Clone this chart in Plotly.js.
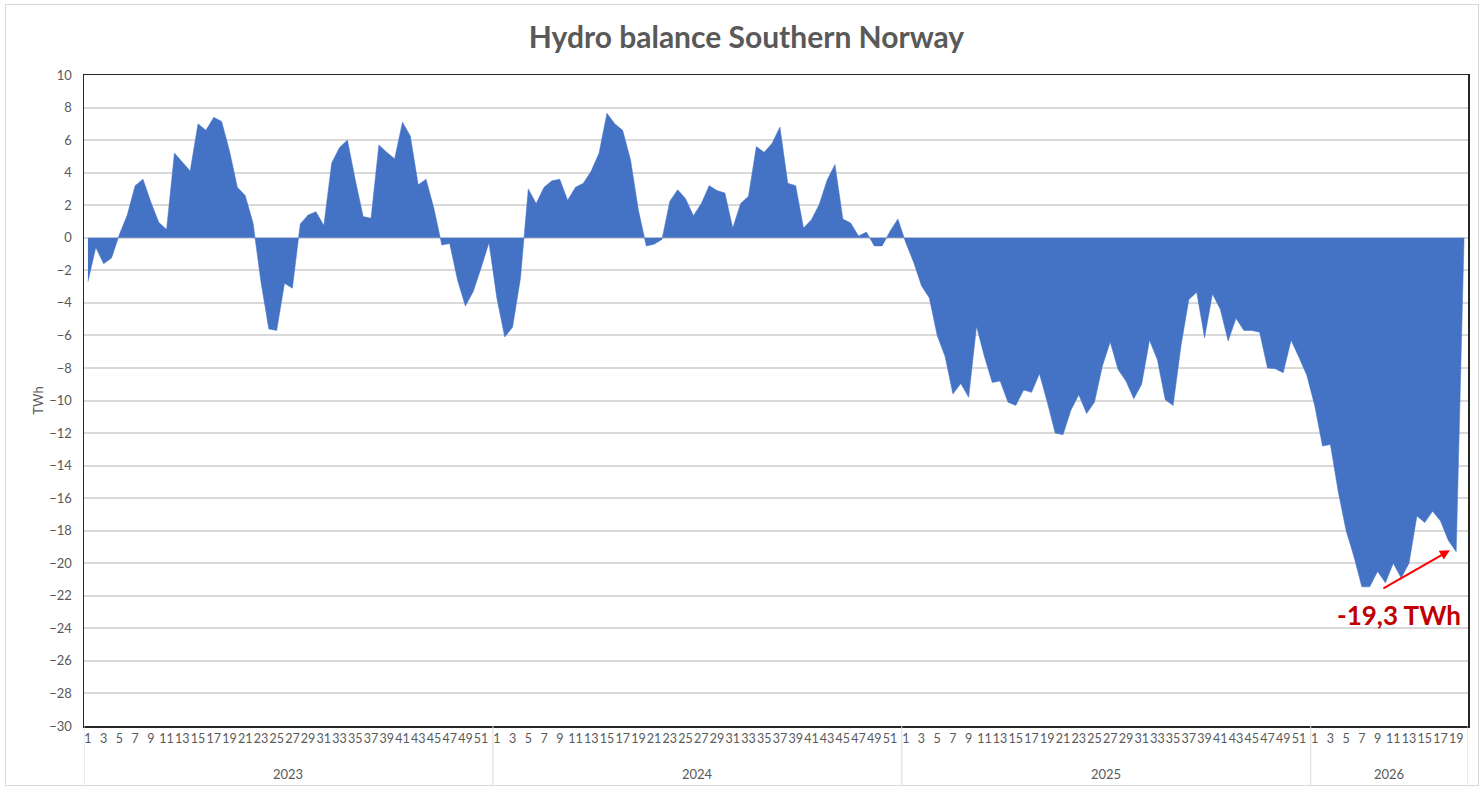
<!DOCTYPE html>
<html>
<head>
<meta charset="utf-8">
<script src="https://cdn.plot.ly/plotly-3.0.1.min.js"></script>
<style>
    body { margin: 0; background: #ffffff; }
    #chart { width: 1484px; height: 789px; }
    #frame {
        position: absolute; left: 5px; top: 4px; width: 1472px; height: 780px;
        border: 1px solid #d9d9d9; pointer-events: none;
    }
</style>
</head>
<body>
<div id="chart"></div>
<div id="frame"></div>
<script>
// Years and how many weeks of each are on the chart
const years = [2023, 2024, 2025, 2026];
const weeksPerYear = [52, 52, 52, 20];

// Hydro balance, TWh, by week
const bal2023 = [
    -2.7, -0.6, -1.6, -1.25, 0.2, 1.4, 3.2, 3.6, 2.2, 0.95,
    0.5, 5.2, 4.65, 4.1, 7.0, 6.6, 7.4, 7.15, 5.35, 3.1,
    2.6, 0.9, -2.7, -5.6, -5.7, -2.8, -3.1, 0.85, 1.4, 1.6,
    0.75, 4.6, 5.55, 6.0, 3.55, 1.3, 1.2, 5.7, 5.25, 4.85,
    7.1, 6.25, 3.25, 3.6, 1.8, -0.45, -0.35, -2.6, -4.2, -3.3,
    -1.85, -0.3
];
const bal2024 = [
    -3.7, -6.1, -5.5, -2.5, 3.0, 2.1, 3.1, 3.5, 3.6, 2.3,
    3.1, 3.35, 4.1, 5.2, 7.65, 7.0, 6.6, 4.8, 1.7, -0.5,
    -0.4, -0.1, 2.25, 2.95, 2.4, 1.35, 2.1, 3.2, 2.9, 2.75,
    0.6, 2.1, 2.55, 5.6, 5.25, 5.8, 6.8, 3.35, 3.2, 0.6,
    1.1, 2.05, 3.55, 4.5, 1.15, 0.9, 0.1, 0.35, -0.5, -0.5,
    0.4, 1.15
];
const bal2025 = [
    -0.3, -1.5, -2.95, -3.7, -6.0, -7.3, -9.6, -8.95, -9.8, -5.45,
    -7.3, -8.9, -8.8, -10.1, -10.3, -9.35, -9.5, -8.35, -10.1, -12.0,
    -12.1, -10.6, -9.65, -10.8, -10.1, -7.9, -6.4, -8.1, -8.8, -9.9,
    -9.0, -6.3, -7.5, -9.95, -10.3, -6.65, -3.8, -3.35, -6.15, -3.45,
    -4.4, -6.35, -4.95, -5.7, -5.7, -5.8, -8.0, -8.05, -8.3, -6.3,
    -7.35, -8.45
];
const bal2026 = [
    -10.3, -12.8, -12.7, -15.6, -18.0, -19.6, -21.45, -21.45, -20.5, -21.2,
    -20.0, -20.9, -20.0, -17.1, -17.5, -16.8, -17.4, -18.6, -19.3, 0
];

const yTicks = [10, 8, 6, 4, 2, 0, -2, -4, -6, -8, -10, -12, -14, -16, -18, -20, -22, -24, -26, -28, -30];
const lastLabel = "-19,3 TWh";

document.addEventListener("DOMContentLoaded", () => {
    const series = [bal2023, bal2024, bal2025, bal2026];

    // Flatten into one running week index
    let xIdx = [], yVals = [], tickVals = [], tickText = [];
    let yearStart = [], n = 0;
    series.forEach((vals, k) => {
        yearStart.push(n);
        for (let w = 0; w < weeksPerYear[k]; w++) {
            xIdx.push(n);
            yVals.push(vals[w]);
            if (w % 2 === 0) {
                tickVals.push(n);
                tickText.push(String(w + 1));
            }
            n++;
        }
    });
    yearStart.push(n);

    const grey = "#595959";

    // Year group labels and separators under the axis
    let annotations = [], shapes = [];
    years.forEach((yr, k) => {
        annotations.push({
            x: (yearStart[k] + yearStart[k + 1] - 1) / 2, y: -0.074,
            xref: "x", yref: "paper", text: String(yr), showarrow: false,
            font: { family: "Lato", size: 13, color: grey }, yanchor: "middle"
        });
    });
    yearStart.forEach(s => {
        shapes.push({
            type: "line", xref: "x", yref: "paper",
            x0: s - 0.5, x1: s - 0.5, y0: 0, y1: -0.091,
            line: { color: "#d9d9d9", width: 1 }
        });
    });

    // Callout for the latest value
    const lastI = xIdx[xIdx.length - 2];
    const lastV = yVals[yVals.length - 2];
    annotations.push({
        x: lastI - 0.8, y: lastV + 0.1, xref: "x", yref: "y",
        ax: -68, ay: 39, text: "", showarrow: true,
        arrowhead: 2, arrowsize: 1, arrowwidth: 2, arrowcolor: "#ff0000"
    });
    annotations.push({
        x: lastI - 7.3, y: -23.2, xref: "x", yref: "y",
        text: "<b>" + lastLabel + "</b>", showarrow: false,
        font: { family: "Lato", size: 26, color: "#c00000" }
    });

    const data = [{
        x: xIdx, y: yVals, type: "scatter", mode: "lines",
        fill: "tozeroy", fillcolor: "#4472c4",
        line: { color: "#4472c4", width: 0.5 },
        hoverinfo: "skip"
    }];

    const layout = {
        width: 1484, height: 789,
        margin: { l: 84, r: 16, t: 75, b: 63 },
        paper_bgcolor: "rgba(0,0,0,0)", plot_bgcolor: "#ffffff",
        showlegend: false,
        title: {
            text: "<b>Hydro balance Southern Norway</b>",
            x: 0.503, xref: "container", y: 0.952, yref: "container", yanchor: "middle",
            font: { family: "Lato", size: 30, color: grey }
        },
        xaxis: {
            range: [-0.5, n - 0.5], tickvals: tickVals, ticktext: tickText,
            tickangle: 0, showgrid: false, zeroline: false,
            showline: true, mirror: true, linecolor: "#262626", linewidth: 1.5,
            ticks: "", tickfont: { family: "Lato", size: 12.5, color: grey }
        },
        yaxis: {
            range: [-30, 10], tickvals: yTicks, ticks: "outside", ticklen: 8,
            tickcolor: "rgba(0,0,0,0)",
            showgrid: true, gridcolor: "#d9d9d9", gridwidth: 2, zeroline: false,
            showline: true, mirror: true, linecolor: "#262626", linewidth: 1.5,
            tickfont: { family: "Lato", size: 13, color: grey },
            title: { text: "TWh", standoff: 2, font: { family: "Lato", size: 13, color: grey } }
        },
        annotations: annotations,
        shapes: shapes
    };

    Plotly.newPlot("chart", data, layout, { displayModeBar: false, staticPlot: true });
});
</script>
</body>
</html>
